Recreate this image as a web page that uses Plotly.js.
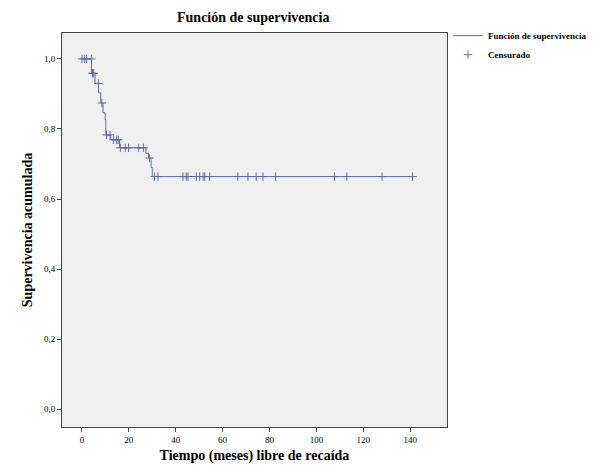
<!DOCTYPE html>
<html>
<head>
<meta charset="utf-8">
<script src="https://cdn.plot.ly/plotly-3.0.1.min.js"></script>
<style>body{margin:0}</style>
</head>
<body>
<div id="plot" style="width:603px;height:471px"></div>
<script>
// step curve: times where survival changes and the level after each step
var stepTimes = [0, 4.1, 5.6, 7.1, 8.0, 9.0, 9.9, 10.2, 12.3, 16.0, 27.3, 28.4, 29.5, 30.0, 141];
var stepSurv  = [1.0, 0.959, 0.93, 0.903, 0.874, 0.846, 0.826, 0.783, 0.769, 0.746, 0.731, 0.717, 0.69, 0.664, 0.664];

// censored observations
var censTimes = [0, 1, 2, 4, 4.5, 5, 7, 8.5, 10.5, 12, 13.4, 14.8, 15.5, 16.4, 18.5, 19.9, 24.2, 26.3, 28.8,
  31, 32.4, 43.1, 44.5, 45.2, 48.8, 50.2, 51.7, 52.4, 54.5, 66.5, 70.8, 74.3, 77.2, 82.6, 107.7, 113, 128, 141];

var xTicks = [0, 20, 40, 60, 80, 100, 120, 140];
var yTicks = [0, 0.2, 0.4, 0.6, 0.8, 1.0];
var yLabels = ['0,0', '0,2', '0,4', '0,6', '0,8', '1,0'];

function survAt(t) {
  var s = 1;
  for (var i = 0; i < stepTimes.length; i++) {
    if (stepTimes[i] <= t) { s = stepSurv[i]; }
  }
  return s;
}

var lineColor = '#5b6ea6';
var trace1 = {
  x: stepTimes, y: stepSurv,
  mode: 'lines', line: {shape: 'hv', color: lineColor, width: 1},
  name: '<b>Función de supervivencia</b>'
};
var trace2 = {
  x: censTimes, y: censTimes.map(survAt),
  mode: 'markers', marker: {symbol: 'cross-thin-open', size: 6, color: lineColor, line: {width: 1, color: lineColor}},
  name: '<b>Censurado</b>'
};

var font = {family: 'Liberation Serif, serif', color: '#000'};
var layout = {
  margin: {l: 62, r: 155, t: 33, b: 44},
  paper_bgcolor: '#fff',
  plot_bgcolor: '#f0f0f0',
  title: {text: '<b>Función de supervivencia</b>', font: {family: font.family, size: 14, color: '#000'}, x: 0.42, y: 0.975},
  showlegend: true,
  legend: {x: 1.0, y: 1.03, xanchor: 'left', yanchor: 'top', itemwidth: 30, font: {family: font.family, size: 9, color: '#000'}, bgcolor: 'rgba(0,0,0,0)', tracegroupgap: 0},
  xaxis: {
    range: [-8.5, 155.7], tickvals: xTicks, ticks: 'outside', ticklen: 4,
    showgrid: false, zeroline: false, showline: true, mirror: true, linecolor: '#444',
    tickfont: {family: font.family, size: 9, color: '#000'},
    title: {text: '<b>Tiempo (meses) libre de recaída</b>', font: {family: font.family, size: 14, color: '#000'}, standoff: 6}
  },
  yaxis: {
    range: [-0.051, 1.074], tickvals: yTicks, ticktext: yLabels, ticks: 'outside', ticklen: 4,
    showgrid: false, zeroline: false, showline: true, mirror: true, linecolor: '#444',
    tickfont: {family: font.family, size: 9, color: '#000'},
    title: {text: '<b>Supervivencia acumulada</b>', font: {family: font.family, size: 14, color: '#000'}, standoff: 8}
  }
};

Plotly.newPlot('plot', [trace1, trace2], layout, {displayModeBar: false});
</script>
</body>
</html>
